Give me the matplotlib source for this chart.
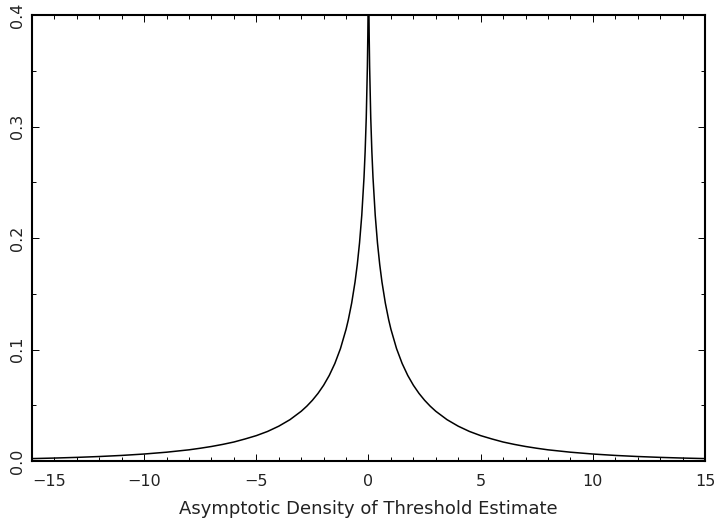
import matplotlib
matplotlib.use("Agg")
import matplotlib.pyplot as plt
from matplotlib.ticker import MultipleLocator, FormatStrFormatter

# values (symmetric around 0)
x_vals = [-15, -14, -13, -12, -11, -10, -9, -8, -7.5, -7, -6.5, -6, -5.5, -5,
          -4.5, -4, -3.5, -3, -2.75, -2.5, -2.25, -2, -1.75, -1.5, -1.25, -1,
          -0.9, -0.75, -0.6, -0.5, -0.4, -0.3, -0.2, -0.15, -0.1, -0.05, -0.03,
          -0.02, -0.01, -0.005, 0,
          0.005, 0.01, 0.02, 0.03, 0.05, 0.1, 0.15, 0.2, 0.3, 0.4, 0.5, 0.6,
          0.75, 0.9, 1, 1.25, 1.5, 1.75, 2, 2.25, 2.5, 2.75, 3, 3.5, 4, 4.5,
          5, 5.5, 6, 6.5, 7, 7.5, 8, 9, 10, 11, 12, 13, 14, 15]
dens = [0.00216, 0.00264, 0.00325, 0.00402, 0.0050, 0.00626, 0.0079, 0.01003,
        0.01144, 0.01302, 0.01489, 0.01703, 0.01977, 0.02276,
        0.0265, 0.03122, 0.03708, 0.04459, 0.04918, 0.05448, 0.06066, 0.06796,
        0.07672, 0.08744, 0.10082, 0.11813,
        0.1266, 0.14165, 0.16056, 0.17624, 0.19557, 0.22035, 0.2544, 0.27748,
        0.30794, 0.35359, 0.38168, 0.4007, 0.42719, 0.44715, 0.5,
        0.44715, 0.42719, 0.4007, 0.38168, 0.35359, 0.30794, 0.27748, 0.2544,
        0.22035, 0.19557, 0.17624, 0.16056,
        0.14165, 0.1266, 0.11813, 0.10082, 0.08744, 0.07672, 0.06796, 0.06066,
        0.05448, 0.04918, 0.04459, 0.03708, 0.03122, 0.0265,
        0.02276, 0.01977, 0.01703, 0.01489, 0.01302, 0.01144, 0.01003, 0.0079,
        0.00626, 0.0050, 0.00402, 0.00325, 0.00264, 0.00216]

xticks = [-15, -10, -5, 0, 5, 10, 15]
yticks = [0.0, 0.1, 0.2, 0.3, 0.4]
xlabel = "Asymptotic Density of Threshold Estimate"

fig = plt.figure(figsize=(7.15, 5.2), dpi=100)
ax = fig.add_axes([32/715, 59/520, 673/715, 446/520])

ax.plot(x_vals, dens, color="black", lw=1.1)

ax.set_xlim(-15, 15)
ax.set_ylim(0, 0.4)
ax.set_xticks(xticks)
ax.set_yticks(yticks)
ax.xaxis.set_minor_locator(MultipleLocator(1))
ax.yaxis.set_minor_locator(MultipleLocator(0.05))
ax.yaxis.set_major_formatter(FormatStrFormatter("%.1f"))

ax.tick_params(which="both", direction="in", top=True, right=True,
               width=0.7, colors="black", labelsize=11.5,
               labelcolor="#222222")
ax.tick_params(which="major", length=5)
ax.tick_params(which="minor", length=3)
ax.tick_params(axis="x", which="major", pad=9)
ax.tick_params(axis="y", which="major", pad=5)
for tk in ax.yaxis.get_major_ticks():
    tk.label1.set_rotation(90)
    tk.label1.set_va("center")
ax.xaxis.get_major_ticks()[0].label1.set_ha("left")
for sp in ax.spines.values():
    sp.set_linewidth(1.5)

ax.set_xlabel(xlabel, fontsize=13, labelpad=8, color="#222222")

fig.savefig("out.png", dpi=100)
